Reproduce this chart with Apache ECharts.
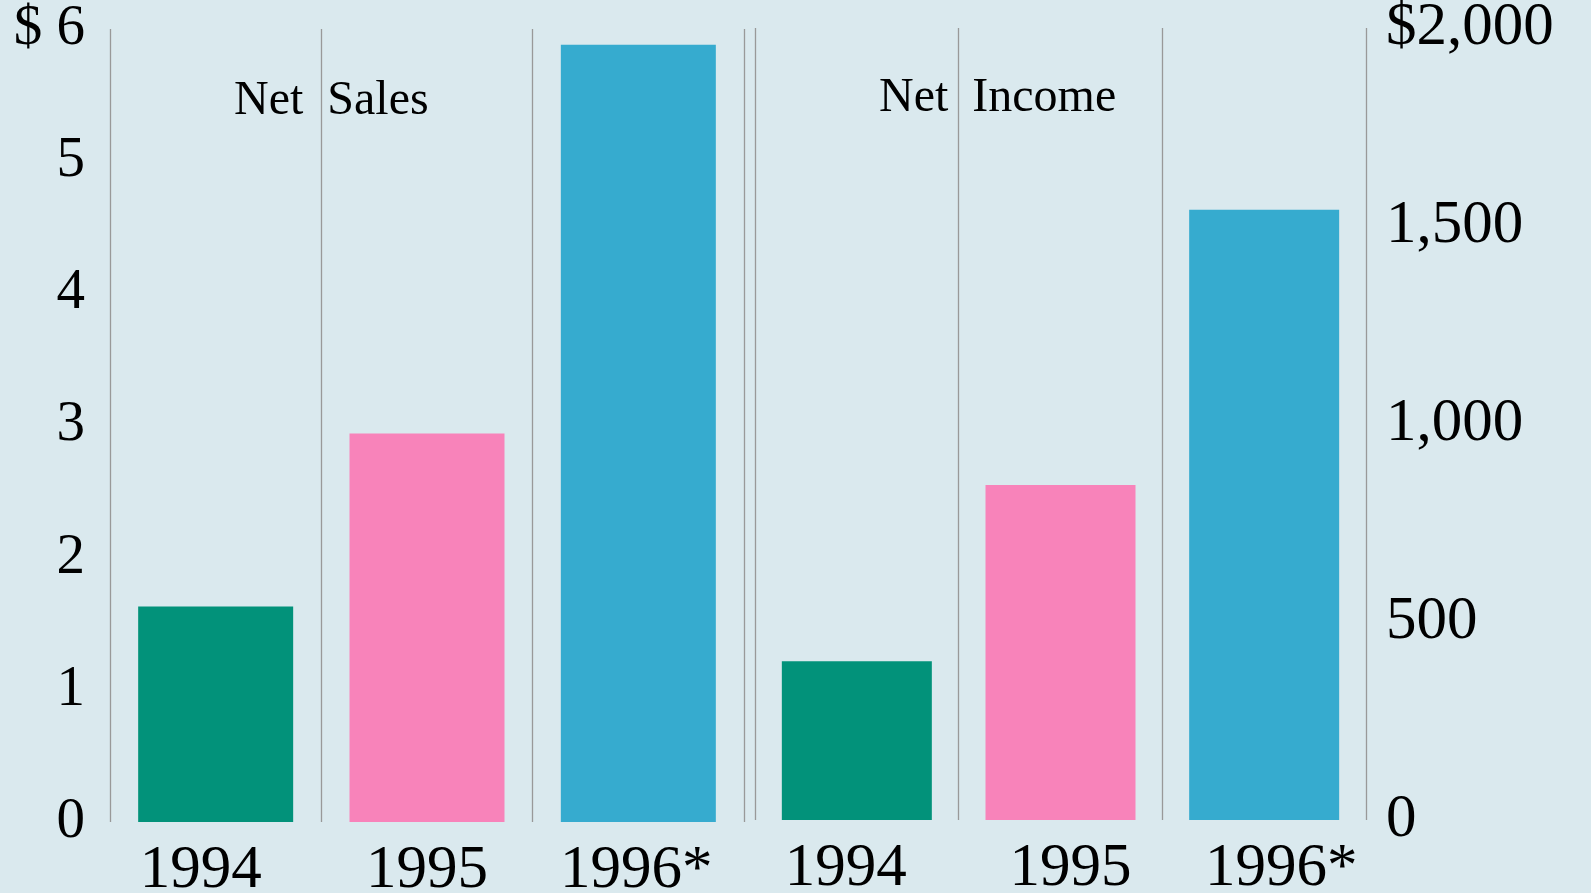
<!DOCTYPE html>
<html>
<head>
<meta charset="utf-8">
<script src="https://cdn.jsdelivr.net/npm/echarts@6/dist/echarts.min.js"></script>
<style>
html,body{margin:0;padding:0;background:#DAE9EE;}
#c{width:1591px;height:893px;}
</style>
</head>
<body>
<div id="c"></div>
<script>
const years = ['1994', '1995', '1996*'];
const netSales = [1.63, 2.94, 5.88];      // $ billions
const netIncome = [401, 846, 1541];       // $ millions
const salesTicks = [0, 1, 2, 3, 4, 5, 6];
const incomeTicks = [0, 500, 1000, 1500, 2000];
const barColors = ['#02927A', '#F883BA', '#36ABCF'];

const FONT = 'Liberation Serif';
const chart = echarts.init(document.getElementById('c'));

const leftPad = [[0, 30, 0, 0], [0, 0, 0, 0], [0, 4, 0, 0]];
const rightPad = [[0, 22, 0, 0], [0, 0, 0, 20], [0, 0, 0, 34]];

function xCats(pads) {
  return years.map((y, i) => ({ value: y, textStyle: { padding: pads[i] } }));
}

const xCommon = {
  type: 'category',
  boundaryGap: true,
  axisLine: { show: false },
  axisTick: { show: false },
  splitLine: { show: true, lineStyle: { color: '#999999', width: 1.3 } },
  axisLabel: { fontFamily: FONT, fontSize: 61, color: '#000', margin: 18, interval: 0 }
};

chart.setOption({
  backgroundColor: '#DAE9EE',
  animation: false,
  title: [
    { text: 'Net  Sales', left: 229, top: 72, textStyle: { fontFamily: FONT, fontSize: 48, fontWeight: 'normal', color: '#000' } },
    { text: 'Net  Income', left: 874, top: 69, textStyle: { fontFamily: FONT, fontSize: 48, fontWeight: 'normal', color: '#000' } }
  ],
  grid: [
    { left: 110, top: 29, width: 634, height: 793, containLabel: false, outerBoundsMode: 'none' },
    { left: 755, top: 28, width: 611, height: 792, containLabel: false, outerBoundsMode: 'none' }
  ],
  xAxis: [
    Object.assign({}, xCommon, { gridIndex: 0, data: xCats(leftPad) }),
    Object.assign({}, xCommon, { gridIndex: 1, data: xCats(rightPad) })
  ],
  yAxis: [
    {
      gridIndex: 0, type: 'value', position: 'left',
      min: salesTicks[0], max: salesTicks[salesTicks.length - 1], interval: 1,
      axisLine: { show: false }, axisTick: { show: false }, splitLine: { show: false },
      axisLabel: {
        fontFamily: FONT, fontSize: 57, color: '#000', margin: 25,
        formatter: v => v === salesTicks[salesTicks.length - 1] ? '$ ' + v : String(v)
      }
    },
    {
      gridIndex: 1, type: 'value', position: 'right',
      min: incomeTicks[0], max: incomeTicks[incomeTicks.length - 1], interval: 500,
      axisLine: { show: false }, axisTick: { show: false }, splitLine: { show: false },
      axisLabel: {
        fontFamily: FONT, fontSize: 61, color: '#000', margin: 20,
        formatter: v => {
          const s = v.toLocaleString('en-US');
          return v === incomeTicks[incomeTicks.length - 1] ? '$' + s : s;
        }
      }
    }
  ],
  series: [
    {
      type: 'bar', xAxisIndex: 0, yAxisIndex: 0, barWidth: 155,
      data: netSales.map((v, i) => ({ value: v, itemStyle: { color: barColors[i] } }))
    },
    {
      type: 'bar', xAxisIndex: 1, yAxisIndex: 1, barWidth: 150,
      data: netIncome.map((v, i) => ({ value: v, itemStyle: { color: barColors[i] } }))
    }
  ]
});
</script>
</body>
</html>
